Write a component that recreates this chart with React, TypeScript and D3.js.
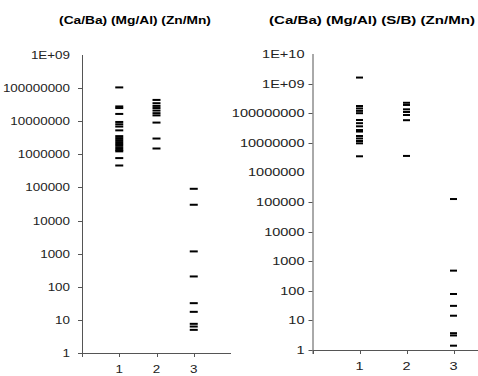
import React from "react";
import * as d3 from "d3";

const leftTitle = "(Ca/Ba) (Mg/Al) (Zn/Mn)";
const rightTitle = "(Ca/Ba) (Mg/Al) (S/B) (Zn/Mn)";
const categories = [1, 2, 3];
const leftTickValues = [1, 10, 100, 1000, 10000, 100000, 1000000, 10000000, 100000000, 1000000000];
const leftTickLabels = ["1", "10", "100", "1000", "10000", "100000", "1000000", "10000000", "100000000", "1E+09"];
const rightTickValues = [1, 10, 100, 1000, 10000, 100000, 1000000, 10000000, 100000000, 1000000000, 10000000000];
const rightTickLabels = ["1", "10", "100", "1000", "10000", "100000", "1000000", "10000000", "100000000", "1E+09", "1E+10"];

// Left chart: ratios per group
const leftCat1 = [1.05e8, 2.8e7, 2.5e7, 1.66e7, 9.5e6, 8.1e6, 6.9e6, 5.3e6, 3.55e6, 3.1e6, 2.7e6, 2.35e6, 2.05e6, 1.8e6, 1.55e6, 1.35e6, 1.23e6, 7.7e5, 4.6e5];
const leftCat2 = [4.4e7, 3.5e7, 2.9e7, 2.5e7, 2.1e7, 1.75e7, 1.5e7, 9.1e6, 3.0e6, 1.5e6];
const leftCat3 = [9.1e4, 3.0e4, 1170, 205, 32, 17.5, 7.6, 6.3, 5.0];

// Right chart
const rightCat1 = [1.6e9, 1.75e8, 1.45e8, 1.2e8, 1.0e8, 5.9e7, 4.6e7, 3.6e7, 2.7e7, 2.4e7, 1.7e7, 1.4e7, 1.15e7, 9.6e6, 3.5e6];
const rightCat2 = [2.25e8, 1.9e8, 1.35e8, 1.1e8, 8.7e7, 5.8e7, 3.6e6];
const rightCat3 = [1.26e5, 480, 78, 31, 14.4, 3.7, 3.1, 1.4];

const FONT = "'Liberation Sans', Arial, sans-serif";

type PanelProps = {
  title: string;
  titleX: number;
  titleStretch: number;
  labelStretch: number;
  x0: number;
  x1: number;
  yBottom: number;
  yTop: number;
  yMax: number;
  tickValues: number[];
  tickLabels: string[];
  noTick: number[];
  labelGap: number;
  series: number[][];
  dashW: number;
};

function Panel(p: PanelProps) {
  const x = d3.scaleLinear().domain([0, 4]).range([p.x0, p.x1]);
  const y = d3.scaleLog().domain([1, p.yMax]).range([p.yBottom, p.yTop]);
  const axisColor = "#555";
  return (
    <g>
      <text
        transform={`translate(${p.titleX},24) scale(${p.titleStretch},1)`}
        textAnchor="middle"
        fontFamily={FONT}
        fontWeight="bold"
        fontSize={11}
        fill="#000"
      >
        {p.title}
      </text>
      {/* y axis */}
      <line x1={p.x0 + 0.5} x2={p.x0 + 0.5} y1={y(p.yMax)} y2={p.yBottom + 4} stroke={axisColor} strokeWidth={1} />
      {p.tickValues.map((v, i) => (
        <g key={"yt" + i}>
          {!p.noTick.includes(v) && (
            <line x1={p.x0 - 4} x2={p.x0} y1={Math.round(y(v)) + 0.5} y2={Math.round(y(v)) + 0.5} stroke={axisColor} />
          )}
          <text
            transform={`translate(${p.x0 - p.labelGap},${y(v) + 4}) scale(${p.labelStretch},1)`}
            textAnchor="end"
            fontFamily={FONT}
            fontSize={11}
            fill="#222"
          >
            {p.tickLabels[i]}
          </text>
        </g>
      ))}
      {/* x axis */}
      <line x1={p.x0} x2={p.x1} y1={Math.round(p.yBottom) + 0.5} y2={Math.round(p.yBottom) + 0.5} stroke={axisColor} />
      {[0, ...categories].map((c) => (
        <line key={"xt" + c} x1={Math.round(x(c)) + 0.5} x2={Math.round(x(c)) + 0.5} y1={p.yBottom} y2={p.yBottom + 4} stroke={axisColor} />
      ))}
      {categories.map((c) => (
        <text
          key={"xl" + c}
          transform={`translate(${x(c)},${p.yBottom + 20}) scale(${p.labelStretch},1)`}
          textAnchor="middle"
          fontFamily={FONT}
          fontSize={11}
          fill="#222"
        >
          {String(c)}
        </text>
      ))}
      {p.series.map((vals, si) =>
        vals.map((v, j) => (
          <rect
            key={"d" + si + "-" + j}
            x={x(categories[si]) - p.dashW / 2}
            y={y(v) - 1}
            width={p.dashW}
            height={2}
            fill="#000"
          />
        ))
      )}
    </g>
  );
}

export default function App() {
  return (
    <svg width={478} height={376} style={{ position: "absolute", left: 0, top: 0, background: "#fff" }}>
      <rect width={478} height={376} fill="#fff" />
      <Panel
        title={leftTitle}
        titleX={135}
        titleStretch={1.25}
        labelStretch={1.22}
        x0={82}
        x1={231}
        yBottom={353}
        yTop={55}
        yMax={1e9}
        tickValues={leftTickValues}
        tickLabels={leftTickLabels}
        noTick={[1e9]}
        labelGap={12}
        series={[leftCat1, leftCat2, leftCat3]}
        dashW={8}
      />
      <Panel
        title={rightTitle}
        titleX={372}
        titleStretch={1.37}
        labelStretch={1.32}
        x0={312.5}
        x1={500.5}
        yBottom={350}
        yTop={54}
        yMax={1e10}
        tickValues={rightTickValues}
        tickLabels={rightTickLabels}
        noTick={[1e10, 1e6]}
        labelGap={8}
        series={[rightCat1, rightCat2, rightCat3]}
        dashW={7}
      />
    </svg>
  );
}
